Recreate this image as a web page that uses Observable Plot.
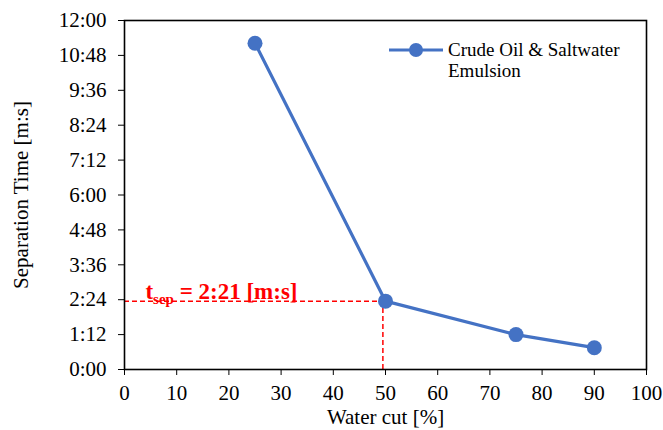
<!DOCTYPE html>
<html><head><meta charset="utf-8">
<script src="https://cdn.jsdelivr.net/npm/d3@7"></script>
<script src="https://cdn.jsdelivr.net/npm/@observablehq/plot@0.6"></script>
<style>body{margin:0;background:#fff}</style>
</head><body><div id="chart"></div>
<script>
// ---- data ----
const waterCut = [25, 50, 75, 90];               // %
const sepSeconds = [673, 141, 72, 45];           // separation time in seconds
const xTicks = [0, 10, 20, 30, 40, 50, 60, 70, 80, 90, 100];
const yTicks = [0, 72, 144, 216, 288, 360, 432, 504, 576, 648, 720];
const refX = [49.5];
const refY = [141];
const labelX = [4];
const seriesName = ["Crude Oil & Saltwater", "Emulsion"];
const labelParts = ["t", "sep", " = 2:21 [m:s]"];

const fmt = s => `${Math.floor(s / 60)}:${String(s % 60).padStart(2, "0")}`;
const data = waterCut.map((x, i) => ({x, y: sepSeconds[i]}));
const FONT = "'Liberation Serif','Times New Roman',Times,serif";
const BLUE = "#4472C4";

const plot = Plot.plot({
  width: 663, height: 430,
  marginLeft: 124, marginRight: 17, marginTop: 20, marginBottom: 61,
  style: {fontFamily: FONT, fontSize: "21px", color: "#000", background: "#fff", overflow: "visible"},
  x: {domain: [0, 100], ticks: xTicks, label: "Water cut [%]", labelAnchor: "center", labelArrow: "none",
      tickSize: 6, tickPadding: 10, labelOffset: 54},
  y: {domain: [0, 720], ticks: yTicks, tickFormat: fmt, label: "Separation Time [m:s]", labelAnchor: "center", labelArrow: "none",
      tickSize: 6, tickPadding: 12, labelOffset: 111},
  marks: [
    Plot.ruleY(refY, {x1: 0, x2: refX[0], stroke: "#ff0000", strokeWidth: 1.5, strokeDasharray: "5,3"}),
    Plot.ruleX(refX, {y1: 0, y2: refY[0], stroke: "#ff0000", strokeWidth: 1.5, strokeDasharray: "5,3"}),
    Plot.line(data, {x: "x", y: "y", stroke: BLUE, strokeWidth: 3.2}),
    Plot.dot(data, {x: "x", y: "y", r: 7.5, fill: BLUE, stroke: "none"}),
    Plot.text([labelParts.join("")], {x: labelX, y: refY, text: d => d, textAnchor: "start", lineAnchor: "bottom",
      dy: -2, fill: "#ff0000", fontWeight: "bold", fontSize: 23, className: "tsep"}),
    Plot.frame({stroke: "#000", strokeWidth: 1.6})
  ]
});

// subscript label
const t = d3.select(plot).select("g.tsep text");
t.text(null);
t.append("tspan").text(labelParts[0]);
t.append("tspan").attr("font-size", 15).attr("dy", 5).text(labelParts[1]);
t.append("tspan").attr("dy", -5).style("white-space", "pre").text(labelParts[2]);

// legend
const svg = d3.select(plot);
const lg = svg.append("g").attr("font-family", FONT).attr("font-size", 19).attr("text-anchor", "start");
lg.append("line").attr("x1", 389).attr("x2", 443).attr("y1", 50).attr("y2", 50).attr("stroke", BLUE).attr("stroke-width", 3.2);
lg.append("circle").attr("cx", 416).attr("cy", 50).attr("r", 7).attr("fill", BLUE);
lg.append("text").attr("x", 448).attr("y", 56).attr("fill", "#000").text(seriesName[0]);
lg.append("text").attr("x", 448).attr("y", 77).attr("fill", "#000").text(seriesName[1]);

document.getElementById("chart").appendChild(plot);
</script>
</body></html>
